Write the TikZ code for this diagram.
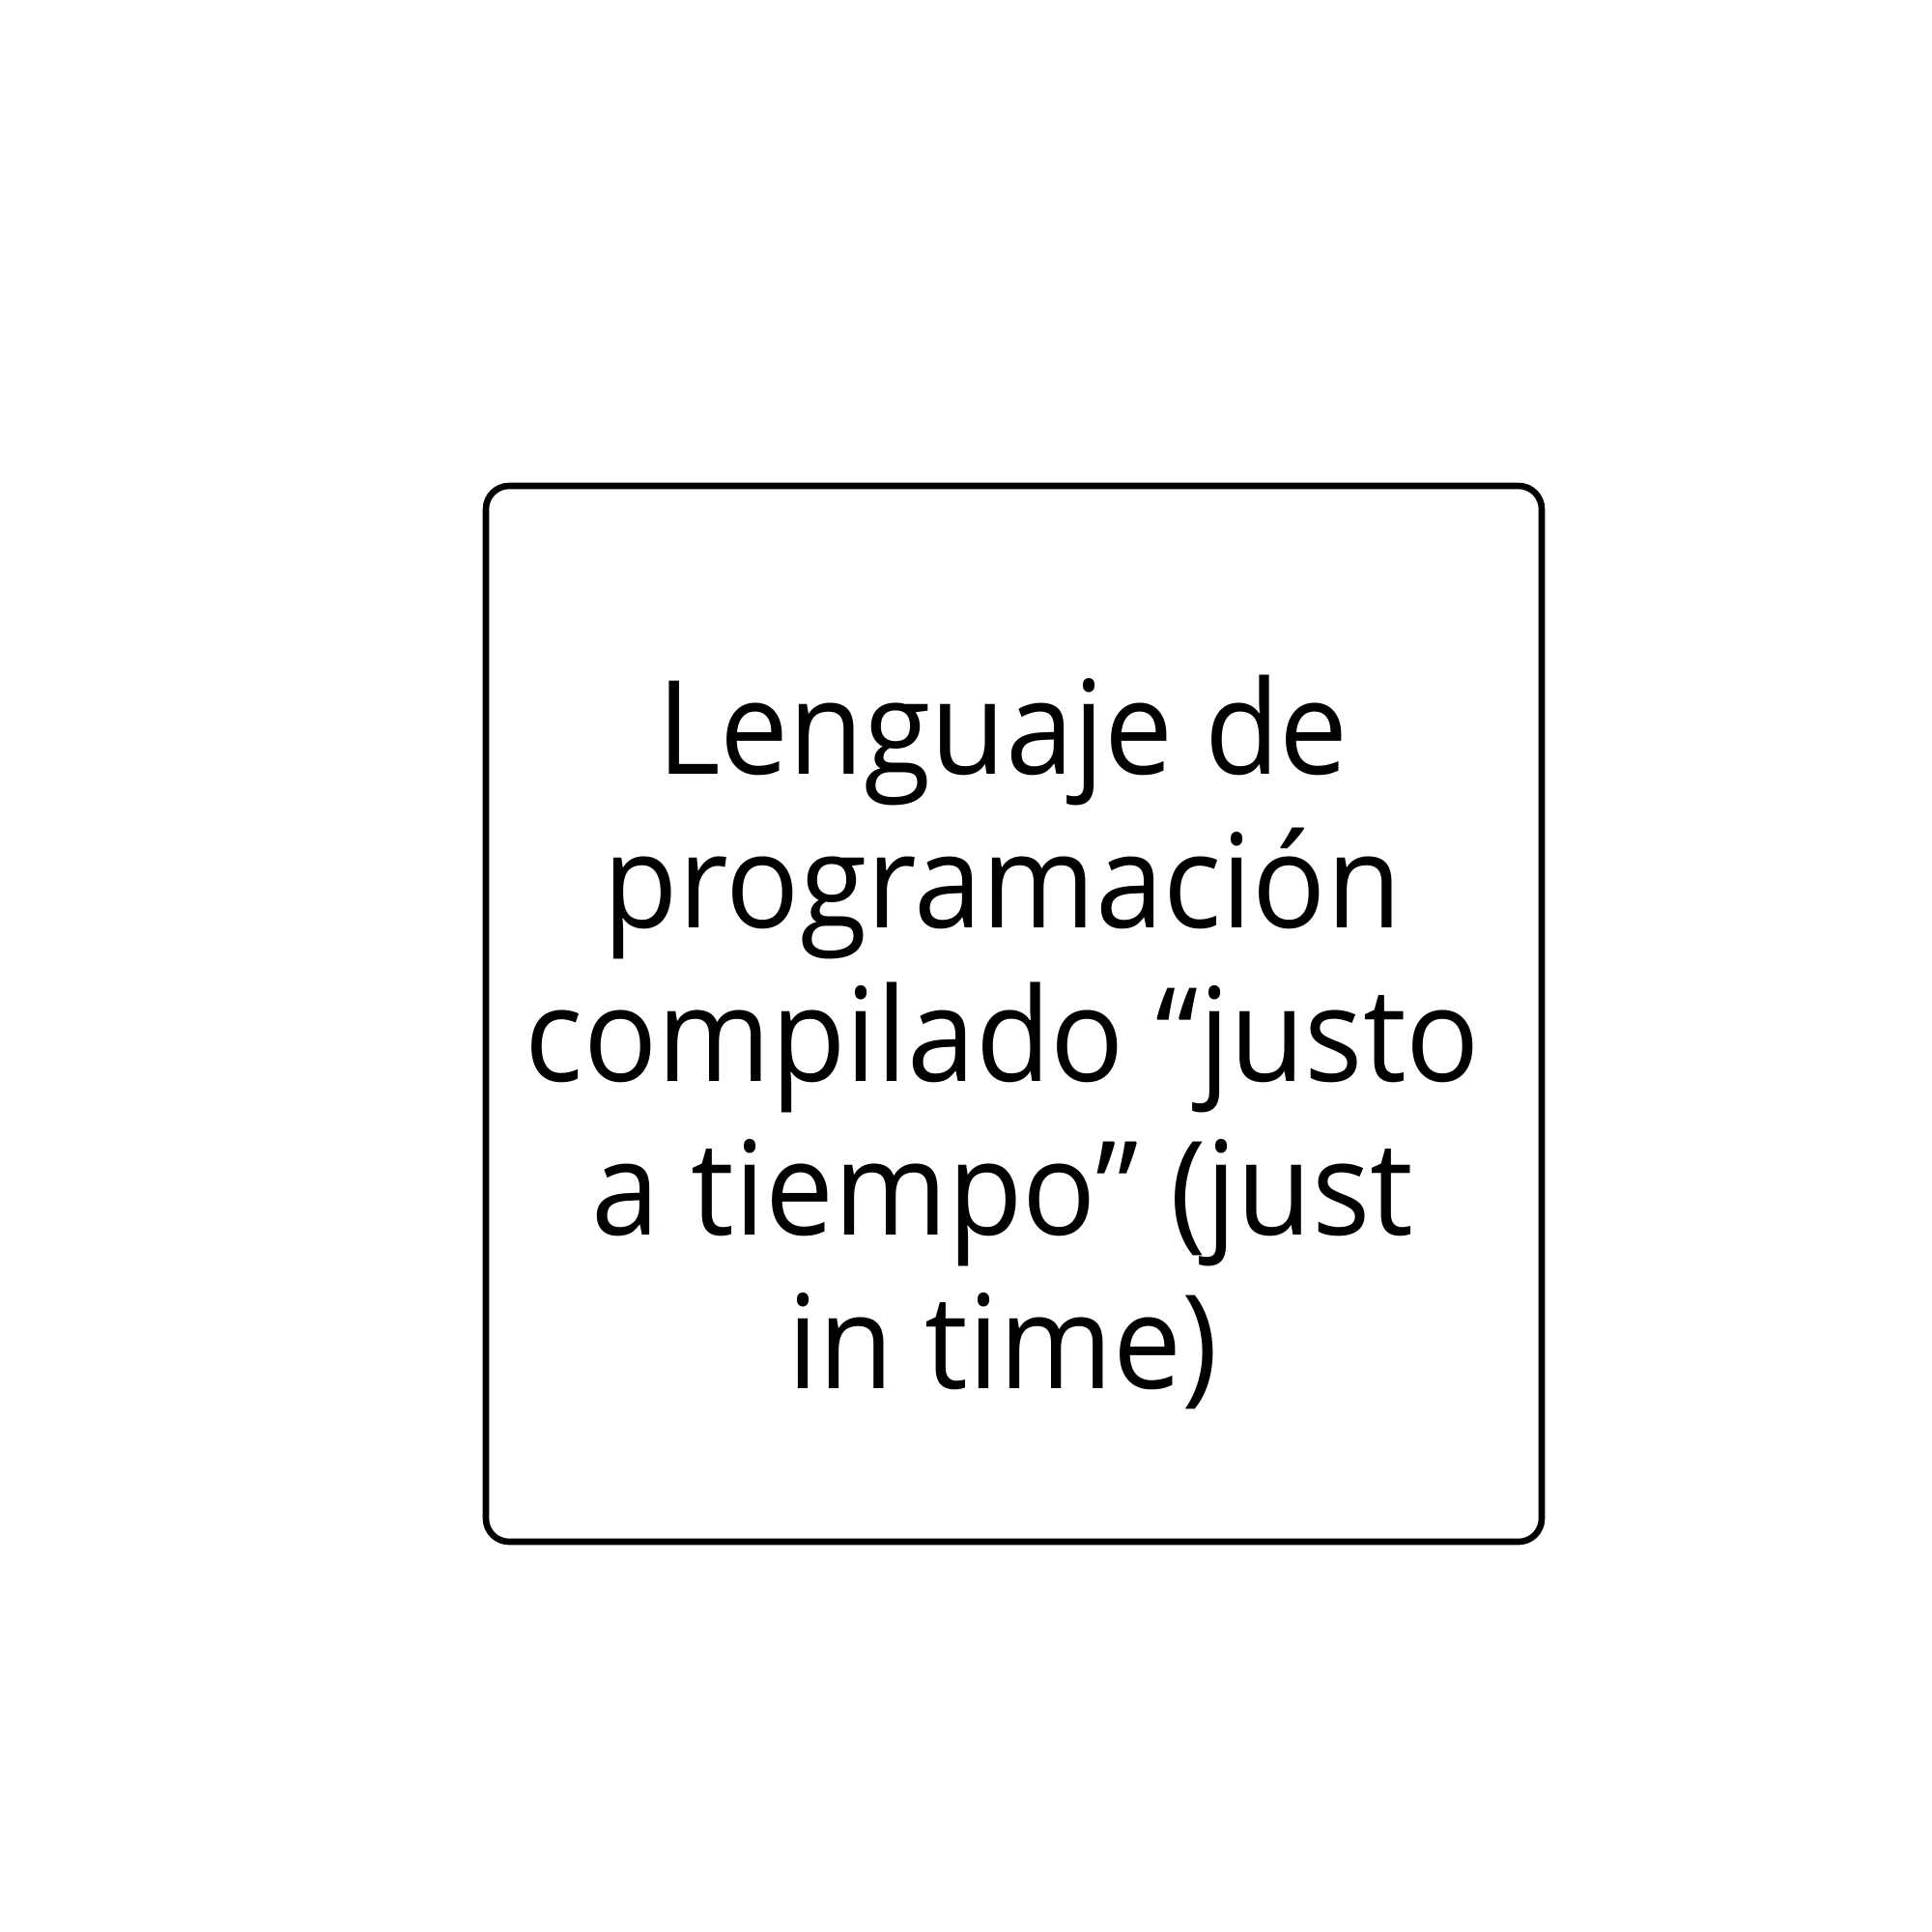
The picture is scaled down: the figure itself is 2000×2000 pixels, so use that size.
\documentclass[tikz,border=0pt]{standalone}
\usepackage{fontspec}
\setmainfont[FakeStretch=0.937]{Open Sans}
\begin{document}
\begin{tikzpicture}[x=0.5pt,y=-0.5pt]
\tikzset{
  boxstyle/.style={draw=black,line width=3.3pt,rounded corners=12pt},
  labelstyle/.style={align=center,inner sep=0pt,font={\fontsize{67.5}{79.5}\selectfont}}
}
\useasboundingbox (0,0) rectangle (2000,2000);
\draw[boxstyle] (503,503) rectangle (1596,1596);
\node[labelstyle,anchor=base] (lbl) at (1038,1437) {Lenguaje de\\programación\\compilado “justo\\a tiempo” (just\\in time)};
\end{tikzpicture}
\end{document}
